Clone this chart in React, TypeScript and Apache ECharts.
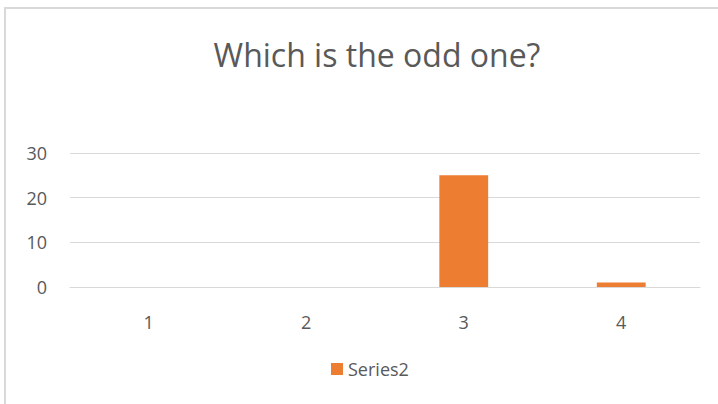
import React, { useEffect, useRef } from "react";
import * as echarts from "echarts";

const categories = ["1", "2", "3", "4"];
const series2Values = [0, 0, 25, 1];
const titleText = "Which is the odd one?";
const seriesName = "Series2";

export default function App() {
  const ref = useRef<HTMLDivElement>(null);
  useEffect(() => {
    if (!ref.current) return;
    const chart = echarts.init(ref.current, undefined, { renderer: "svg" });
    chart.setOption({
      animation: false,
      backgroundColor: "#ffffff",
      textStyle: { fontFamily: "'Open Sans', sans-serif" },
      title: {
        text: titleText,
        left: 372,
        textAlign: "center",
        top: 33,
        textStyle: { fontSize: 32, fontWeight: "normal", color: "#595959", fontFamily: "'Open Sans', sans-serif" },
      },
      graphic: [
        {
          type: "rect",
          shape: { x: 5, y: 8, width: 730, height: 420 },
          style: { fill: "none", stroke: "#d9d9d9", lineWidth: 2 },
          silent: true,
        },
      ],
      legend: {
        data: [seriesName],
        bottom: 21,
        left: 326,
        icon: "rect",
        itemWidth: 12,
        itemHeight: 12,
        itemGap: 6,
        textStyle: { fontSize: 18, color: "#595959" },
      },
      grid: { left: 70, right: 18, top: 153, bottom: 117, containLabel: false },
      xAxis: {
        type: "category",
        data: categories,
        axisLine: { show: true, lineStyle: { color: "#d9d9d9", width: 1 } },
        axisTick: { show: false },
        axisLabel: { fontSize: 18, color: "#595959", margin: 26 },
      },
      yAxis: {
        type: "value",
        min: 0,
        max: 30,
        interval: 10,
        axisLine: { show: false },
        axisTick: { show: false },
        axisLabel: { fontSize: 18, color: "#595959", margin: 23 },
        splitLine: { lineStyle: { color: "#d9d9d9", width: 1 } },
      },
      series: [
        {
          name: seriesName,
          type: "bar",
          data: series2Values,
          barWidth: "31%",
          itemStyle: { color: "#ed7d31" },
        },
      ],
    });
    return () => chart.dispose();
  }, []);
  return (
    <div
      ref={ref}
      style={{ position: "absolute", left: 0, top: 0, width: 718, height: 404 }}
    />
  );
}
